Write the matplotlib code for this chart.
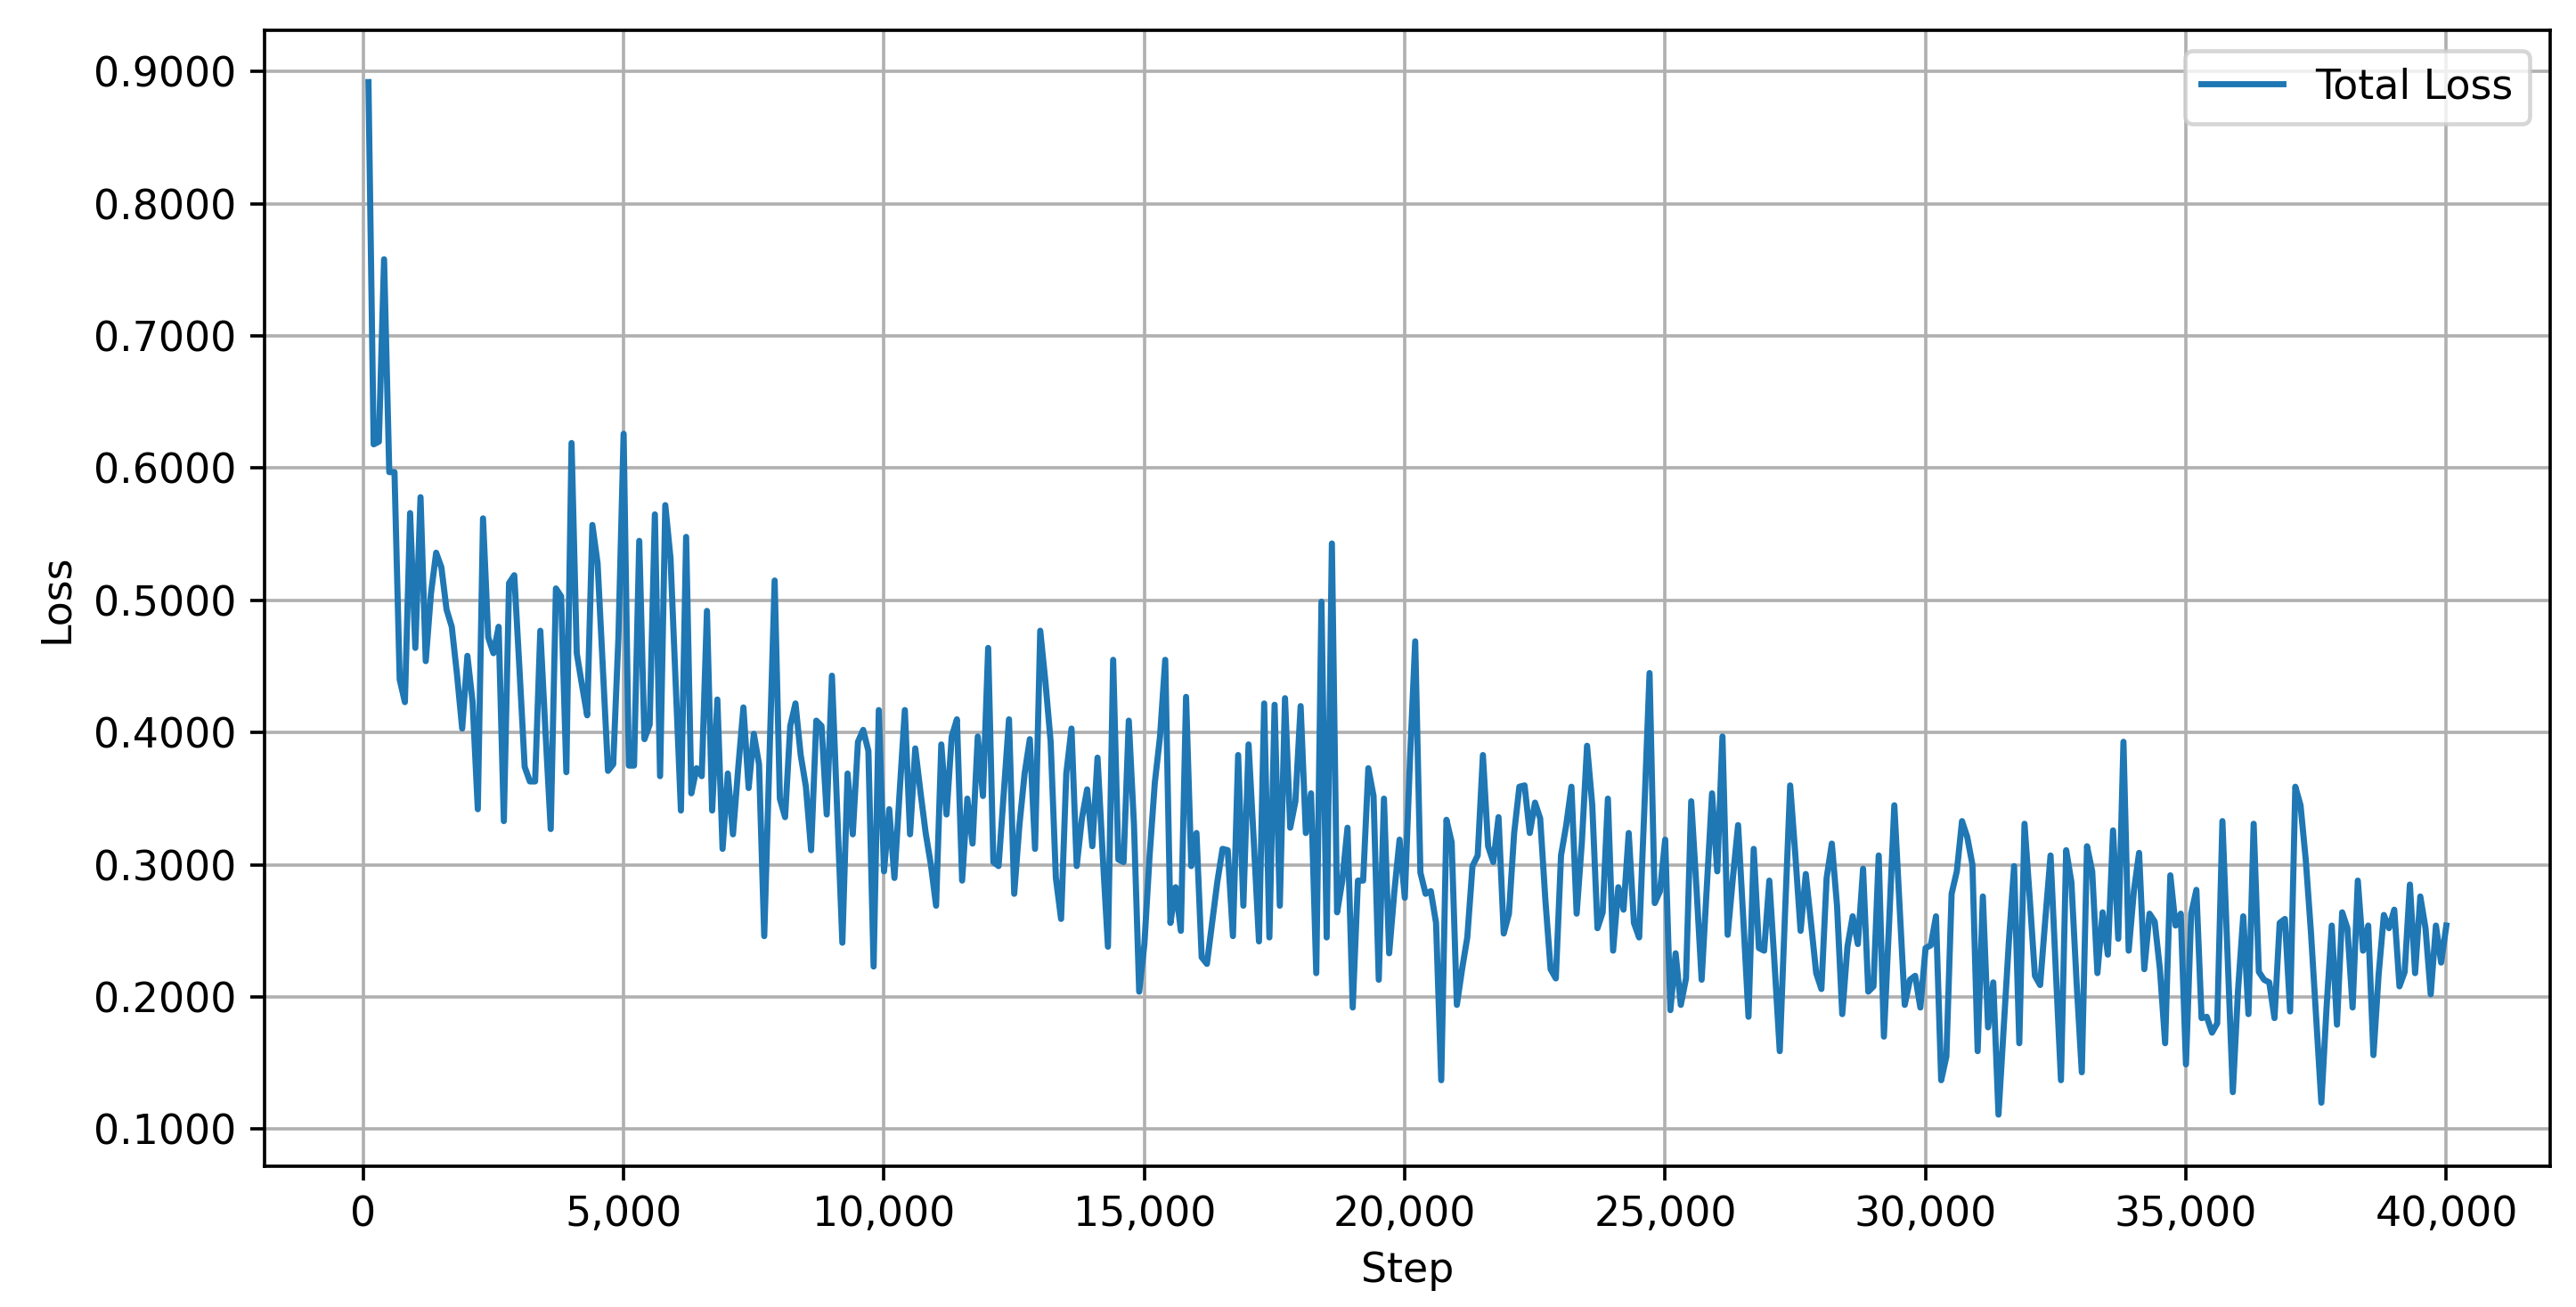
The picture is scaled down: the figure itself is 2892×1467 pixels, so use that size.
import matplotlib
matplotlib.use("Agg")
import matplotlib.pyplot as plt
from matplotlib.ticker import FuncFormatter

# loss logged every 100 steps, 100 .. 40000 (one row = 1000 steps)
steps = list(range(100, 40001, 100))
total_loss = [
    0.892, 0.618, 0.620, 0.758, 0.597, 0.597, 0.440, 0.423, 0.566, 0.464,
    0.578, 0.454, 0.505, 0.536, 0.525, 0.493, 0.480, 0.444, 0.403, 0.458,
    0.423, 0.342, 0.562, 0.472, 0.460, 0.480, 0.333, 0.513, 0.519, 0.448,
    0.374, 0.363, 0.363, 0.477, 0.400, 0.327, 0.509, 0.503, 0.370, 0.619,
    0.460, 0.436, 0.413, 0.557, 0.528, 0.450, 0.371, 0.376, 0.472, 0.626,
    0.375, 0.375, 0.545, 0.395, 0.406, 0.565, 0.367, 0.572, 0.532, 0.436,
    0.341, 0.548, 0.354, 0.373, 0.367, 0.492, 0.341, 0.425, 0.312, 0.369,
    0.323, 0.373, 0.419, 0.358, 0.399, 0.376, 0.246, 0.380, 0.515, 0.350,
    0.336, 0.405, 0.422, 0.383, 0.359, 0.311, 0.409, 0.405, 0.338, 0.443,
    0.342, 0.241, 0.369, 0.323, 0.393, 0.402, 0.386, 0.223, 0.417, 0.295,
    0.342, 0.290, 0.355, 0.417, 0.323, 0.388, 0.355, 0.324, 0.300, 0.269,
    0.391, 0.338, 0.397, 0.410, 0.288, 0.350, 0.316, 0.397, 0.352, 0.464,
    0.302, 0.299, 0.355, 0.410, 0.278, 0.330, 0.369, 0.395, 0.312, 0.477,
    0.438, 0.393, 0.290, 0.259, 0.369, 0.403, 0.299, 0.335, 0.357, 0.314,
    0.381, 0.307, 0.238, 0.455, 0.304, 0.302, 0.409, 0.330, 0.204, 0.240,
    0.307, 0.362, 0.397, 0.455, 0.256, 0.283, 0.250, 0.427, 0.299, 0.324,
    0.230, 0.225, 0.256, 0.287, 0.312, 0.311, 0.246, 0.383, 0.269, 0.391,
    0.318, 0.242, 0.422, 0.245, 0.421, 0.269, 0.426, 0.328, 0.348, 0.420,
    0.324, 0.354, 0.218, 0.499, 0.245, 0.543, 0.264, 0.288, 0.328, 0.192,
    0.288, 0.288, 0.373, 0.352, 0.213, 0.350, 0.233, 0.280, 0.319, 0.275,
    0.380, 0.469, 0.294, 0.278, 0.280, 0.256, 0.137, 0.334, 0.317, 0.194,
    0.221, 0.245, 0.299, 0.307, 0.383, 0.314, 0.302, 0.336, 0.248, 0.263,
    0.324, 0.359, 0.360, 0.324, 0.347, 0.335, 0.273, 0.221, 0.214, 0.307,
    0.330, 0.359, 0.263, 0.317, 0.390, 0.345, 0.252, 0.264, 0.350, 0.235,
    0.283, 0.266, 0.324, 0.256, 0.245, 0.342, 0.445, 0.271, 0.280, 0.319,
    0.190, 0.233, 0.194, 0.214, 0.348, 0.283, 0.213, 0.283, 0.354, 0.295,
    0.397, 0.247, 0.290, 0.330, 0.259, 0.185, 0.312, 0.237, 0.235, 0.288,
    0.225, 0.159, 0.262, 0.360, 0.307, 0.250, 0.293, 0.256, 0.218, 0.206,
    0.290, 0.316, 0.269, 0.187, 0.238, 0.261, 0.240, 0.297, 0.204, 0.208,
    0.307, 0.170, 0.256, 0.345, 0.269, 0.194, 0.213, 0.216, 0.192, 0.237,
    0.239, 0.261, 0.137, 0.155, 0.278, 0.295, 0.333, 0.321, 0.300, 0.159,
    0.276, 0.177, 0.211, 0.111, 0.177, 0.242, 0.299, 0.165, 0.331, 0.275,
    0.216, 0.209, 0.259, 0.307, 0.221, 0.137, 0.311, 0.287, 0.211, 0.143,
    0.314, 0.295, 0.218, 0.264, 0.232, 0.326, 0.244, 0.393, 0.235, 0.280,
    0.309, 0.221, 0.263, 0.257, 0.221, 0.165, 0.292, 0.254, 0.263, 0.149,
    0.263, 0.281, 0.184, 0.185, 0.173, 0.180, 0.333, 0.230, 0.128, 0.205,
    0.261, 0.187, 0.331, 0.219, 0.213, 0.211, 0.184, 0.256, 0.259, 0.189,
    0.359, 0.345, 0.304, 0.249, 0.184, 0.120, 0.192, 0.254, 0.179, 0.264,
    0.252, 0.192, 0.288, 0.235, 0.254, 0.156, 0.217, 0.262, 0.252, 0.266,
    0.208, 0.219, 0.285, 0.218, 0.276, 0.252, 0.202, 0.254, 0.226, 0.254,
]

# 330 dpi so text and lines come out a bit heavier than the 300 dpi default
DPI = 330
fig = plt.figure(figsize=(2892 / DPI, 1467 / DPI), dpi=DPI)
ax = fig.add_axes([0.1027, 0.1077, 0.8873, 0.869])

ax.plot(steps, total_loss, label='Total Loss')
ax.set_xlabel('Step')
ax.set_ylabel('Loss')
ax.xaxis.set_major_formatter(FuncFormatter(lambda v, p: f'{v:,.0f}'))
ax.yaxis.set_major_formatter(FuncFormatter(lambda v, p: f'{v:.4f}'))
ax.legend(loc='upper right')
ax.grid(True)

fig.savefig('out.png', dpi=DPI)
